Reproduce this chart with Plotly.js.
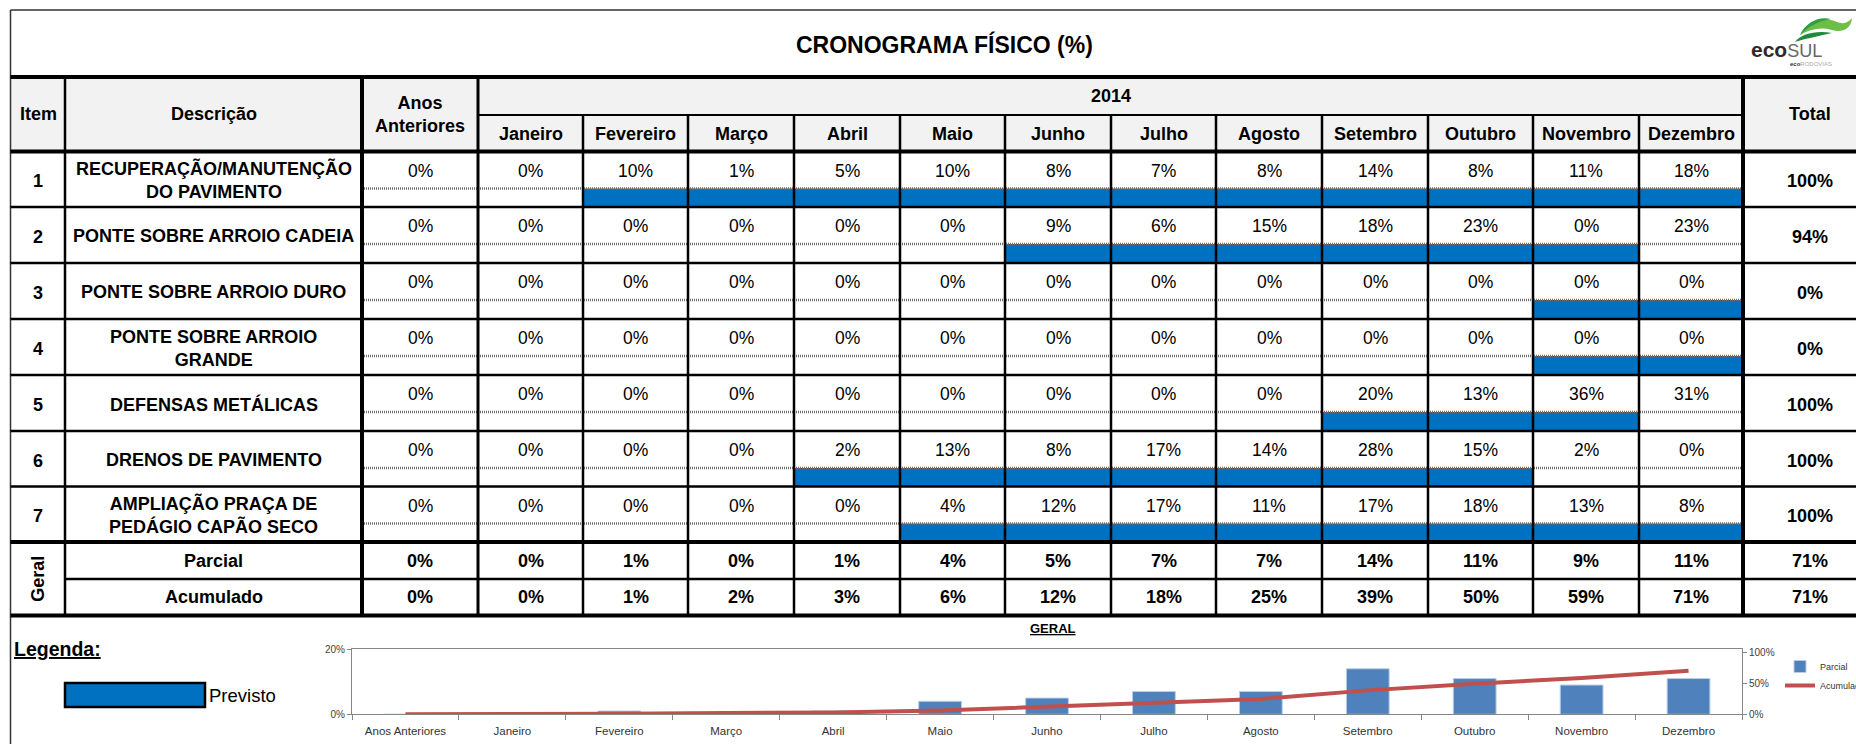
<!DOCTYPE html>
<html><head><meta charset="utf-8">
<script src="https://cdn.plot.ly/plotly-3.0.1.min.js"></script>
<style>html,body{margin:0;padding:0;background:#fff;overflow:hidden}#chart{width:1856px;height:744px}</style>
</head><body><div id="chart"></div>
<script>
// ---------------- DATA ----------------
const chartTitle = 'CRONOGRAMA FÍSICO (%)';
const yearLabel = '2014';
const months = ['Janeiro','Fevereiro','Março','Abril','Maio','Junho','Julho','Agosto','Setembro','Outubro','Novembro','Dezembro'];
const itemNumbers = ['1','2','3','4','5','6','7'];
const descriptions = ['RECUPERAÇÃO/MANUTENÇÃO<br>DO PAVIMENTO','PONTE SOBRE ARROIO CADEIA','PONTE SOBRE ARROIO DURO','PONTE SOBRE ARROIO<br>GRANDE','DEFENSAS METÁLICAS','DRENOS DE PAVIMENTO','AMPLIAÇÃO PRAÇA DE<br>PEDÁGIO CAPÃO SECO'];
const anosAnteriores = [0,0,0,0,0,0,0];
const item1 = [0,10,1,5,10,8,7,8,14,8,11,18];
const item2 = [0,0,0,0,0,9,6,15,18,23,0,23];
const item3 = [0,0,0,0,0,0,0,0,0,0,0,0];
const item4 = [0,0,0,0,0,0,0,0,0,0,0,0];
const item5 = [0,0,0,0,0,0,0,0,20,13,36,31];
const item6 = [0,0,0,2,13,8,17,14,28,15,2,0];
const item7 = [0,0,0,0,4,12,17,11,17,18,13,8];
const itemTotals = [100,94,0,0,100,100,100];
// planned (Previsto) month span per item, 0 = Janeiro
const previstoInicio = [1,5,10,10,8,3,4];
const previstoFim    = [11,10,11,11,10,9,11];
const geralCategories = ['Anos Anteriores','Janeiro','Fevereiro','Março','Abril','Maio','Junho','Julho','Agosto','Setembro','Outubro','Novembro','Dezembro'];
const geralParcial   = [0,0,1,0,1,4,5,7,7,14,11,9,11];
const geralAcumulado = [0,0,1,2,3,6,12,18,25,39,50,59,71];
const geralTotal = [71,71];

// ---------------- LAYOUT GEOMETRY (table grid, in axis units) ----------------
const FONT = 'Liberation Sans, Arial, Helvetica, sans-serif';
const colEdges = [11,65,362,478,583,688,794,900,1005,1111,1216,1322,1428,1533,1639,1743,1877];
const rowEdges = [151.5,207,263,319,375,431,486.5,542,579,615.5];
const Y_TOP = 10, Y_TITLE = 77, Y_YEAR = 115, Y_HEAD = 151.5, SPLIT = 37;
const BOLD = 18, REG = 17.5;
const itemValues = [item1,item2,item3,item4,item5,item6,item7];
const cc = k => (colEdges[k]+colEdges[k+1])/2;
const rc = r => (rowEdges[r]+rowEdges[r+1])/2;

const ann = [];
function txt(x,y,text,size,extra){
  ann.push(Object.assign({xref:'x',yref:'y',x:x,y:y,text:text,showarrow:false,
    font:{family:FONT,size:size,color:'#000'},xanchor:'center',yanchor:'middle'},extra||{}));
}
const shapes = [];
function hl(y,x0,x1,w,extra){shapes.push(Object.assign({type:'line',xref:'x',yref:'y',x0:x0,x1:x1,y0:y,y1:y,line:{color:'#000',width:w}},extra||{}));}
function vl(x,y0,y1,w){shapes.push({type:'line',xref:'x',yref:'y',x0:x,x1:x,y0:y0,y1:y1,line:{color:'#000',width:w}});}

// header background
shapes.push({type:'rect',xref:'x',yref:'y',x0:colEdges[0],x1:1856,y0:Y_TITLE,y1:Y_HEAD,fillcolor:'#F2F2F2',line:{width:0},layer:'below'});

// title + logo
txt(944,44,'<b>'+chartTitle+'</b>',23);
txt(1749,49,'<b>eco</b><span style="color:#666;font-size:18px">SUL</span>',21,{xanchor:'left',font:{family:FONT,size:21,color:'#2b2b2b'}});
txt(1788,63.5,'<b>eco</b><span style="color:#aaa">RODOVIAS</span>',6,{xanchor:'left',font:{family:FONT,size:6,color:'#333'}});
shapes.push({type:'path',xref:'x',yref:'y',path:'M1800,35 C1806,22 1822,15 1837,22 C1842,24 1847,24 1852,18 C1851,29 1842,33 1832,30 C1821,27 1810,29 1800,35 Z',fillcolor:'#6DBE45',line:{width:0}});
shapes.push({type:'path',xref:'x',yref:'y',path:'M1800,35 C1806,22 1819,16 1831,19 C1819,21 1809,26 1800,35 Z',fillcolor:'#2E9E48',line:{width:0}});
shapes.push({type:'path',xref:'x',yref:'y',path:'M1795,42 C1801,33 1818,30 1832,33 C1820,36 1807,38 1795,42 Z',fillcolor:'#1E8C3A',line:{width:0}});

// header texts
txt(cc(0),114,'<b>Item</b>',BOLD);
txt(cc(1),114,'<b>Descrição</b>',BOLD);
txt(cc(2),114,'<b>Anos<br>Anteriores</b>',BOLD);
txt((colEdges[3]+colEdges[15])/2,96,'<b>'+yearLabel+'</b>',BOLD);
months.forEach((m,j)=>txt(cc(3+j),133.5,'<b>'+m+'</b>',BOLD));
txt(cc(15),114,'<b>Total</b>',BOLD);

// item rows
itemNumbers.forEach((n,i)=>{
  const top=rowEdges[i];
  txt(cc(0),rc(i)+2,'<b>'+n+'</b>',BOLD);
  txt(cc(1),rc(i)+1,'<b>'+descriptions[i]+'</b>',BOLD);
  txt(cc(2),top+19,anosAnteriores[i]+'%',REG);
  itemValues[i].forEach((v,j)=>txt(cc(3+j),top+19,v+'%',REG));
  txt(cc(15),rc(i)+2,'<b>'+itemTotals[i]+'%</b>',BOLD);
});
// geral rows
const geralRows = [['Parcial',geralParcial],['Acumulado',geralAcumulado]];
geralRows.forEach((g,k)=>{
  const r=7+k;
  txt(cc(1),rc(r),'<b>'+g[0]+'</b>',BOLD);
  g[1].forEach((v,j)=>txt(cc(2+j),rc(r),'<b>'+v+'%</b>',BOLD));
  txt(cc(15),rc(r),'<b>'+geralTotal[k]+'%</b>',BOLD);
});
txt(cc(0),(rowEdges[7]+rowEdges[9])/2,'<b>Geral</b>',BOLD,{textangle:-90});

// legend block (Previsto) and GERAL chart title
txt(12,649,'<b><u>Legenda:</u></b>',19.5,{xanchor:'left'});
shapes.push({type:'rect',xref:'x',yref:'y',x0:65,x1:205,y0:683,y1:707,fillcolor:'#0070C0',line:{color:'#000',width:2.5}});
txt(207,695,'Previsto',18.5,{xanchor:'left'});
txt(1053,628,'<b><u>GERAL</u></b>',13,{font:{family:'Liberation Sans Narrow, Arial Narrow, '+FONT,size:13,color:'#000'}});

// grid lines
shapes.push({type:'line',xref:'x',yref:'y',x0:10.5,x1:1856,y0:Y_TOP,y1:Y_TOP,line:{color:'#333',width:1.5}});
shapes.push({type:'line',xref:'x',yref:'y',x0:10.5,x1:10.5,y0:Y_TOP,y1:744,line:{color:'#333',width:1.5}});
hl(Y_TITLE,10.5,1856,4);
hl(Y_YEAR,colEdges[3],colEdges[15],2);
hl(Y_HEAD,10.5,1856,4);
for(let r=1;r<rowEdges.length;r++){
  const w=(r===7||r===9)?4:2.5;
  hl(rowEdges[r],r===8?colEdges[1]:10.5,1856,w);
}
// dotted split lines
for(let i=0;i<itemNumbers.length;i++){
  hl(rowEdges[i]+SPLIT,colEdges[2],colEdges[15],2.5,{line:{color:'#6e6e6e',width:2.5,dash:'1px,1px'}});
}
vl(colEdges[1],Y_TITLE,rowEdges[9],2.5);
vl(colEdges[2],Y_TITLE,rowEdges[9],4);
vl(colEdges[3],Y_TITLE,rowEdges[9],3);
for(let k=4;k<15;k++) vl(colEdges[k],Y_YEAR,rowEdges[9],2.5);
vl(colEdges[15],Y_TITLE,rowEdges[9],4);

// gantt bars (Previsto) from data
const gBase=[],gLen=[],gY=[],gW=[];
itemNumbers.forEach((n,i)=>{
  const t=rowEdges[i]+SPLIT, b=rowEdges[i+1];
  const x0=colEdges[3+previstoInicio[i]], x1=colEdges[4+previstoFim[i]];
  gBase.push(x0); gLen.push(x1-x0); gY.push((t+b)/2); gW.push(b-t);
});

const traces = [
  {type:'bar',orientation:'h',x:gLen,base:gBase,y:gY,width:gW,xaxis:'x',yaxis:'y',
   marker:{color:'#0070C0',line:{width:0}},hoverinfo:'skip',showlegend:false},
  {type:'bar',name:'Parcial',x:geralCategories,y:geralParcial.map(v=>v/100),xaxis:'x2',yaxis:'y2',
   marker:{color:'#4F81BD',line:{color:'#B9CDE5',width:1}},legendgroup:'p'},
  {type:'scatter',mode:'lines',name:'Acumulado',x:geralCategories,y:geralAcumulado.map(v=>v/100),xaxis:'x2',yaxis:'y3',
   line:{color:'#C0504D',width:4},legendgroup:'a'}
];

const tickFont = {family:FONT,size:10,color:'#404040'};
const layout = {
  width:1856,height:744,margin:{l:0,r:0,t:0,b:0,pad:0,autoexpand:false},
  paper_bgcolor:'#fff',plot_bgcolor:'rgba(0,0,0,0)',
  bargap:0.6,showlegend:true,
  xaxis:{range:[0,1856],domain:[0,1],visible:false,fixedrange:true},
  yaxis:{range:[744,0],domain:[0,1],visible:false,fixedrange:true},
  xaxis2:{domain:[352/1856,1742/1856],anchor:'y2',type:'category',showline:true,linecolor:'#868686',linewidth:1,mirror:true,
    ticks:'outside',tickson:'boundaries',ticklen:5,tickcolor:'#868686',showgrid:false,fixedrange:true,ticklabelstandoff:6,
    tickfont:{family:FONT,size:11.5,color:'#333'}},
  yaxis2:{domain:[29.7/744,94.7/744],anchor:'x2',range:[0,0.2],tickvals:[0,0.2],tickformat:'.0%',showline:true,linecolor:'#868686',
    ticks:'outside',ticklen:4,tickcolor:'#868686',showgrid:false,zeroline:false,fixedrange:true,tickfont:tickFont},
  yaxis3:{overlaying:'y2',anchor:'x2',side:'right',range:[0,1.06],tickvals:[0,0.5,1],tickformat:'.0%',showline:true,linecolor:'#868686',
    ticks:'outside',ticklen:4,tickcolor:'#868686',showgrid:false,zeroline:false,fixedrange:true,tickfont:tickFont},
  legend:{x:1780/1856,xanchor:'left',y:(744-652)/744,yanchor:'top',font:{family:FONT,size:9,color:'#333'},
    bgcolor:'rgba(0,0,0,0)',tracegroupgap:22,itemwidth:30,traceorder:'normal'},
  shapes:shapes,annotations:ann
};
Plotly.newPlot('chart',traces,layout,{displayModeBar:false,staticPlot:true});
</script></body></html>
